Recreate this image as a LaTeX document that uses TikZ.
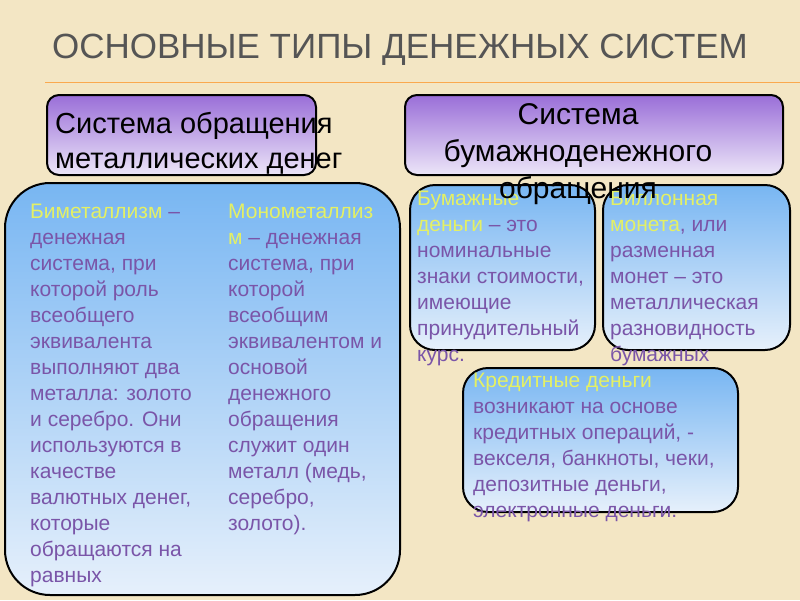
\documentclass[tikz,border=0pt]{standalone}
\usepackage{fontspec}
\setmainfont{Liberation Sans}
\begin{document}
\begin{tikzpicture}[x=1pt,y=-1pt,
  hdr/.style={draw=black,line width=2pt,rounded corners=12pt,top color=hdrtop,bottom color=hdrbot},
  card/.style={draw=black,line width=2pt,rounded corners=#1,top color=cardtop,bottom color=cardbot},
  body/.style={anchor=north west,align=left,inner sep=0pt,text=bodytxt,font=\fontsize{21}{26}\selectfont}]
\definecolor{bg}{HTML}{F3E6C4}
\definecolor{hdrtop}{HTML}{9A6ED8}
\definecolor{hdrbot}{HTML}{ECE6F8}
\definecolor{cardtop}{HTML}{78B6F2}
\definecolor{cardbot}{HTML}{E6F0FB}
\definecolor{bodytxt}{HTML}{7A55A8}
\definecolor{yl}{HTML}{E4F064}
\definecolor{ttl}{HTML}{555555}
\fill[bg] (0,0) rectangle (800,600);
\useasboundingbox (0,0) rectangle (800,600);
\draw[orange!60!bg,line width=1pt] (45,82) -- (800,82);
\node[text=ttl,font=\fontsize{35}{38}\selectfont] (title) at (400,50) {ОСНОВНЫЕ ТИПЫ ДЕНЕЖНЫХ СИСТЕМ};
% headers
\path[hdr] (47,95) rectangle (316,175);
\node[anchor=north west,align=left,inner sep=0pt,font=\fontsize{29}{35}\selectfont] (h1) at (55,112) {Система обращения\\металлических денег};
\path[hdr] (405,95) rectangle (783,175);
% big left card
\path[card=45pt] (5,183) rectangle (400,595);
\node[body] (bim) at (30,204) {\textcolor{yl}{Биметаллизм} --\\денежная\\система, при\\которой роль\\всеобщего\\эквивалента\\выполняют два\\металла: золото\\и серебро. Они\\используются в\\качестве\\валютных денег,\\которые\\обращаются на\\равных};
\node[body] (mono) at (228,204) {\textcolor{yl}{Монометаллиз}\\\textcolor{yl}{м} -- денежная\\система, при\\которой\\всеобщим\\эквивалентом и\\основой\\денежного\\обращения\\служит один\\металл (медь,\\серебро,\\золото).};
% paper cards
\path[card=25pt] (410,185) rectangle (595,350);
\path[card=25pt] (603,185) rectangle (790,350);
\node[body] (paper) at (417,191) {\textcolor{yl}{Бумажные}\\\textcolor{yl}{деньги} -- это\\номинальные\\знаки стоимости,\\имеющие\\принудительный\\курс.};
\node[body] (bill) at (610,191) {\textcolor{yl}{Биллонная}\\\textcolor{yl}{монета}, или\\разменная\\монет -- это\\металлическая\\разновидность\\бумажных};
\node[align=center,inner sep=0pt,font=\fontsize{30}{37}\selectfont] (h2) at (578,154) {Система\\бумажноденежного\\обращения};
\path[card=25pt] (463,368) rectangle (738,512);
\node[body] (cred) at (473,373) {\textcolor{yl}{Кредитные деньги}\\возникают на основе\\кредитных операций, -\\векселя, банкноты, чеки,\\депозитные деньги,\\электронные деньги.};
\end{tikzpicture}
\end{document}
